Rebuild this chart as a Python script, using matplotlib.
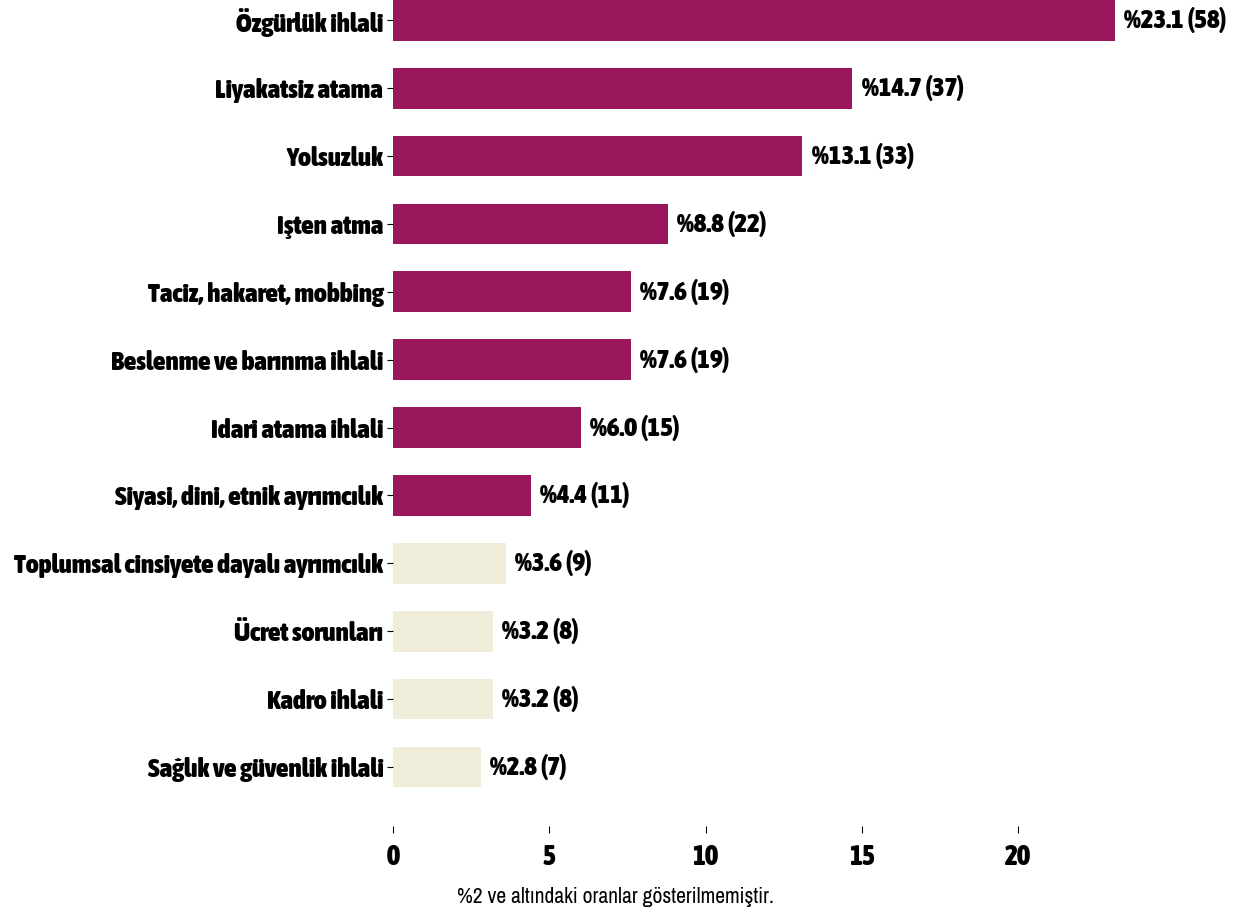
import matplotlib
matplotlib.use("Agg")
import matplotlib.pyplot as plt
from matplotlib import font_manager as fm

categories = ["Özgürlük ihlali", "Liyakatsiz atama", "Yolsuzluk", "Işten atma",
              "Taciz, hakaret, mobbing", "Beslenme ve barınma ihlali",
              "Idari atama ihlali", "Siyasi, dini, etnik ayrımcılık",
              "Toplumsal cinsiyete dayalı ayrımcılık", "Ücret sorunları",
              "Kadro ihlali", "Sağlık ve güvenlik ihlali"]
percent = [23.1, 14.7, 13.1, 8.8, 7.6, 7.6, 6.0, 4.4, 3.6, 3.2, 3.2, 2.8]
counts = [58, 37, 33, 22, 19, 19, 15, 11, 9, 8, 8, 7]
highlight = [True] * 8 + [False] * 4
xticks = [0, 5, 10, 15, 20]
caption = "%2 ve altındaki oranlar gösterilmemiştir."

# pick narrow/condensed font files (regular and bold) if available
reg_file, bold_file = None, None
for f in fm.fontManager.ttflist:
    if "Narrow" in f.name or "Condensed" in f.name:
        w = f.weight if isinstance(f.weight, int) else (700 if f.weight == "bold" else 400)
        if f.style != "normal":
            continue
        if w >= 600 and bold_file is None:
            bold_file = f.fname
        elif w < 600 and reg_file is None:
            reg_file = f.fname

if bold_file:
    fp_bold = fm.FontProperties(fname=bold_file)
else:
    fp_bold = fm.FontProperties(family="DejaVu Sans", weight="bold")
if reg_file:
    fp_reg = fm.FontProperties(fname=reg_file)
else:
    fp_reg = fm.FontProperties(family="DejaVu Sans")

def fp(base, size):
    p = base.copy()
    p.set_size(size)
    return p

fig = plt.figure(figsize=(12.48, 9.16), dpi=100)
ax = fig.add_axes([393/1248, 1 - 826/916, 1 - 393/1248, 826/916])

ypos = list(range(len(categories)))
colors = ["#9B175C" if h else "#F0EEDB" for h in highlight]
ax.barh(ypos, percent, height=0.6, color=colors)
for y, p, c in zip(ypos, percent, counts):
    ax.text(p + 0.3, y, f"%{p:.1f} ({c})", va="center", ha="left",
            fontproperties=fp(fp_bold, 19.5))

ax.set_ylim(11.87, -0.3)
ax.set_xlim(0, (1248 - 393) / 31.25)
ax.set_yticks(ypos)
ax.set_yticklabels(categories, fontproperties=fp(fp_bold, 19.5))
ax.set_xticks(xticks)
ax.set_xticklabels([str(t) for t in xticks], fontproperties=fp(fp_bold, 20))
for s in ax.spines.values():
    s.set_visible(False)
ax.tick_params(axis="y", length=4, width=0.8, pad=3)
ax.tick_params(axis="x", length=5, width=0.8, pad=8)

fig.text(615/1248, 1 - 897/916, caption, ha="center", va="center",
         fontproperties=fp(fp_reg, 15.5))
fig.savefig("out.png", dpi=100)
